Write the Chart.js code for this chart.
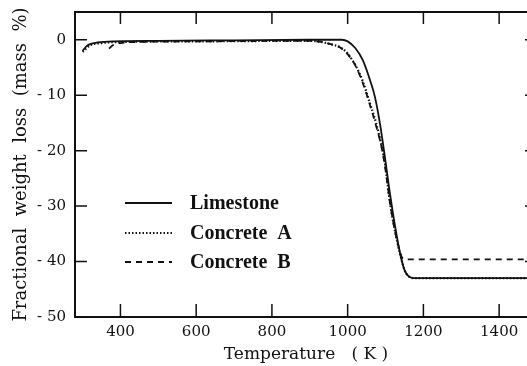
<!DOCTYPE html>
<html lang="en">
<head>
    <meta charset="UTF-8">
    <title>Fractional weight loss vs temperature</title>
    <script src="https://cdn.jsdelivr.net/npm/chart.js"></script>
    <style>
        html, body { margin: 0; padding: 0; background: #fff; overflow: hidden; }
        #wrap { width: 545px; height: 366px; }
    </style>
</head>
<body>
    <div id="wrap"><canvas id="tgaChart" width="545" height="366"></canvas></div>

    <script>
        // values
        const limestoneT = [300, 310, 320, 340, 380, 500, 700, 900, 985, 1000, 1020, 1040, 1060, 1072, 1085, 1098, 1110, 1120, 1130, 1140, 1150, 1160, 1175, 1300, 1500];
        const limestoneLoss = [-2.0, -1.2, -0.8, -0.5, -0.3, -0.2, -0.1, 0, 0, -0.3, -1.5, -3.7, -7.5, -10.3, -15, -21, -27, -31.5, -35.5, -39, -41.5, -42.6, -43, -43, -43];

        const concreteAT = [300, 320, 350, 400, 600, 900, 930, 960, 979, 1000, 1023, 1040, 1059, 1075, 1090, 1100, 1112, 1125, 1138, 1150, 1160, 1180, 1300, 1500];
        const concreteALoss = [-2.2, -1.0, -0.6, -0.4, -0.3, -0.2, -0.4, -0.9, -1.3, -2.5, -4.9, -7.5, -11.5, -15, -19.3, -23, -29.5, -34.5, -38.5, -41.5, -42.6, -43, -43, -43];

        const concreteBT = [370, 380, 400, 450, 600, 900, 930, 960, 980, 1000, 1023, 1040, 1059, 1075, 1090, 1100, 1112, 1125, 1138, 1145, 1155, 1300, 1500];
        const concreteBLoss = [-1.6, -1.0, -0.6, -0.4, -0.3, -0.2, -0.4, -0.9, -1.4, -2.6, -5, -7.8, -11.8, -15.5, -19.5, -23.5, -29.5, -34.5, -38.2, -39.4, -39.6, -39.6, -39.6];

        const xTicks = [400, 600, 800, 1000, 1200, 1400];
        const yTicks = [0, -10, -20, -30, -40, -50];

        const ink = '#111';

        function pts(xs, ys) {
            return xs.map((x, i) => ({ x: x, y: ys[i] }));
        }

        // frame, inward tick marks on all four sides, and the boxed-in legend
        const framePlugin = {
            id: 'frame',
            afterDraw(chart) {
                const ctx = chart.ctx;
                const a = chart.chartArea;
                const xs = chart.scales.x, ys = chart.scales.y;
                ctx.save();
                ctx.strokeStyle = ink;
                ctx.lineWidth = 2;
                ctx.strokeRect(a.left, a.top, a.right - a.left, a.bottom - a.top);
                ctx.lineWidth = 1.5;
                ctx.beginPath();
                xTicks.forEach(v => {
                    const px = xs.getPixelForValue(v);
                    ctx.moveTo(px, a.bottom); ctx.lineTo(px, a.bottom - 13);
                    ctx.moveTo(px, a.top); ctx.lineTo(px, a.top + 12);
                });
                yTicks.forEach(v => {
                    const py = ys.getPixelForValue(v);
                    ctx.moveTo(a.left, py); ctx.lineTo(a.left + 12, py);
                    ctx.moveTo(a.right, py); ctx.lineTo(a.right - 12, py);
                });
                ctx.stroke();

                // legend
                const lx = 125, lw = 47, tx = 190;
                const rows = [203, 233, 262];
                ctx.font = 'bold 20px "Liberation Serif"';
                ctx.textBaseline = 'middle';
                ctx.fillStyle = ink;
                chart.data.datasets.forEach((ds, i) => {
                    ctx.beginPath();
                    ctx.lineWidth = ds.borderWidth;
                    ctx.setLineDash(ds.borderDash || []);
                    ctx.moveTo(lx, rows[i]);
                    ctx.lineTo(lx + lw, rows[i]);
                    ctx.stroke();
                    ctx.setLineDash([]);
                    ctx.fillText(ds.label, tx, rows[i] + 1);
                });
                ctx.restore();
            }
        };

        new Chart(document.getElementById('tgaChart'), {
            type: 'line',
            data: {
                datasets: [
                    { label: 'Limestone', data: pts(limestoneT, limestoneLoss), borderWidth: 1.8, borderDash: [] },
                    { label: 'Concrete  A', data: pts(concreteAT, concreteALoss), borderWidth: 2.2, borderDash: [1.5, 2] },
                    { label: 'Concrete  B', data: pts(concreteBT, concreteBLoss), borderWidth: 1.8, borderDash: [6, 5] }
                ].map(d => Object.assign(d, {
                    borderColor: ink,
                    pointRadius: 0,
                    fill: false,
                    cubicInterpolationMode: 'monotone'
                }))
            },
            options: {
                responsive: false,
                animation: false,
                layout: { padding: { top: 12, right: 8, left: 0, bottom: 0 } },
                plugins: { legend: { display: false }, tooltip: { enabled: false } },
                scales: {
                    x: {
                        type: 'linear',
                        min: 280,
                        max: 1500,
                        afterBuildTicks: s => { s.ticks = xTicks.map(v => ({ value: v })); },
                        afterFit: s => { s.height = 49; s.paddingLeft = 0; s.paddingRight = 0; },
                        grid: { display: false, drawTicks: false },
                        border: { display: false },
                        ticks: {
                            color: ink,
                            padding: 6,
                            maxRotation: 0,
                            font: { family: '"DejaVu Serif"', size: 15 },
                            callback: v => String(v)
                        },
                        title: {
                            display: true,
                            text: 'Temperature   ( K )',
                            color: ink,
                            padding: { top: 0, bottom: 1 },
                            font: { family: '"DejaVu Serif"', size: 17, lineHeight: 1.2 }
                        }
                    },
                    y: {
                        type: 'linear',
                        min: -50,
                        max: 5,
                        afterBuildTicks: s => { s.ticks = yTicks.map(v => ({ value: v })); },
                        afterFit: s => { s.width = 75; s.paddingTop = 0; s.paddingBottom = 0; },
                        grid: { display: false, drawTicks: false },
                        border: { display: false },
                        ticks: {
                            color: ink,
                            padding: 9,
                            font: { family: '"DejaVu Serif"', size: 15 },
                            callback: v => v === 0 ? '0' : '- ' + Math.abs(v)
                        },
                        title: {
                            display: true,
                            text: 'Fractional  weight  loss  (mass  %)',
                            color: ink,
                            padding: { top: 11, bottom: 0 },
                            font: { family: '"DejaVu Serif"', size: 18, lineHeight: 1.2 }
                        }
                    }
                }
            },
            plugins: [framePlugin]
        });
    </script>
</body>
</html>
